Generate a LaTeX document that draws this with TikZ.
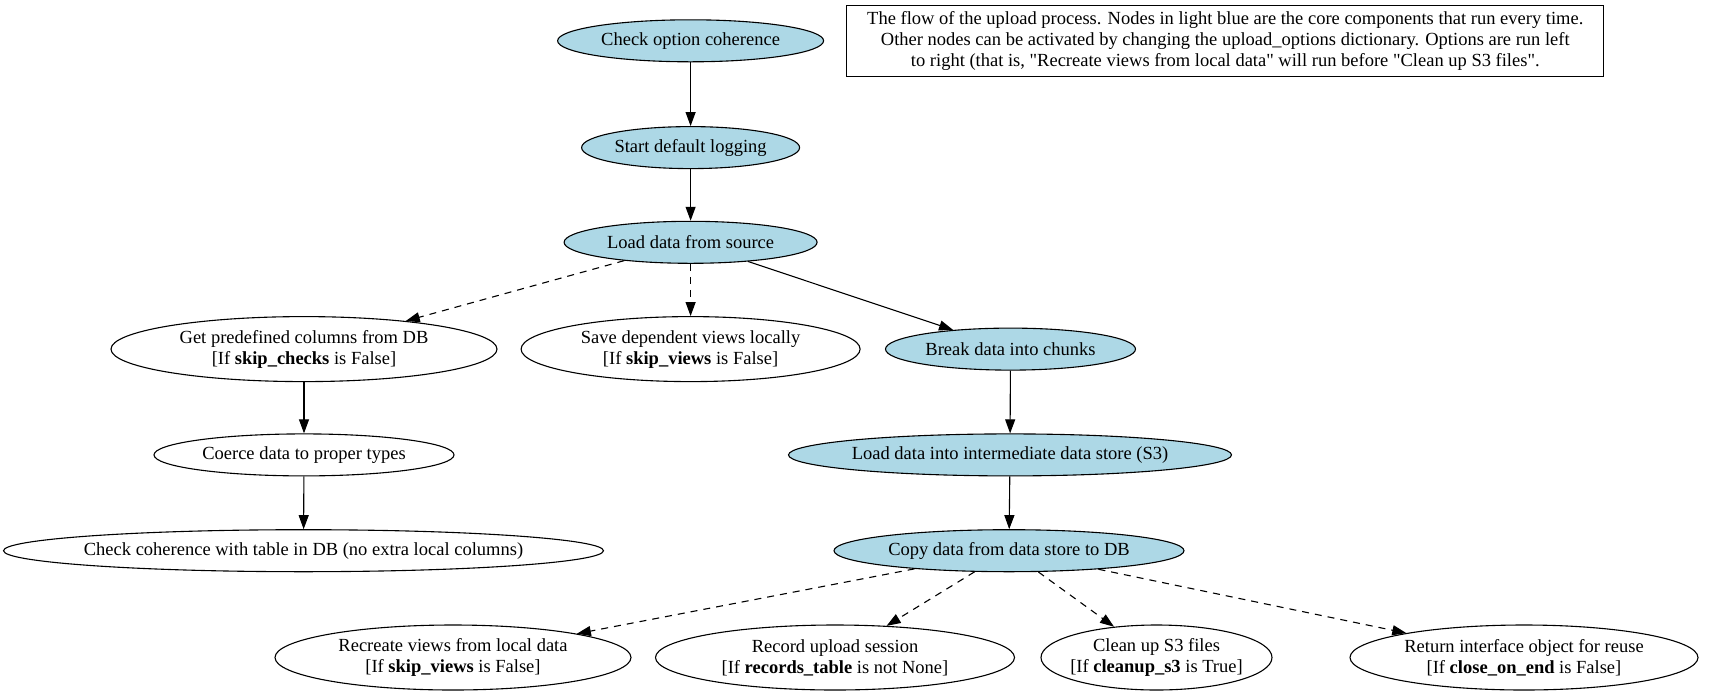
\documentclass[tikz,border=0pt]{standalone}
\usepackage{fontspec}
\setmainfont[Ligatures=TeXOff]{Liberation Serif}
\usetikzlibrary{shapes.geometric,arrows.meta}
\definecolor{lblue}{HTML}{ADD8E6}
\tikzset{
  x=1pt,y=-1pt,
  base/.style={ellipse,draw,line width=1.1pt,inner xsep=-40pt,inner ysep=-12pt,align=center,
    font=\fontsize{18.5}{21}\selectfont},
  core/.style={base,fill=lblue,minimum height=42pt},
  opt/.style={base,fill=white,minimum height=42pt},
  opt2/.style={base,fill=white,minimum height=65pt},
  edge/.style={line width=1.1pt,-{Triangle[length=14pt,width=10pt]}},
  dedge/.style={edge,dash pattern=on 7pt off 6pt},
}
\begin{document}
\begin{tikzpicture}
\useasboundingbox (0,0) rectangle (1727,697);
\node[core,minimum width=266pt] (coc) at (690.6,40.8) {Check option coherence};
\node[core,minimum width=218pt] (sdl) at (690.6,147.6) {Start default logging};
\node[core,minimum width=253pt] (lds) at (690.6,242.3) {Load data from source};
\node[opt2,minimum width=386pt] (gpc) at (304,349.1) {Get predefined columns from DB\\{}[If \textbf{skip\_checks} is False]};
\node[opt2,minimum width=339pt] (sdv) at (690.6,349.1) {Save dependent views locally\\{}[If \textbf{skip\_views} is False]};
\node[core,minimum width=250pt] (bdc) at (1010.5,349.1) {Break data into chunks};
\node[opt,minimum width=300pt] (cdt) at (304,454.9) {Coerce data to proper types};
\node[opt,minimum width=600pt] (cct) at (303.5,550.7) {Check coherence with table in DB (no extra local columns)};
\node[core,minimum width=443pt] (ldi) at (1010,454.9) {Load data into intermediate data store (S3)};
\node[core,minimum width=350pt] (cds) at (1009,550.7) {Copy data from data store to DB};
\node[opt2,minimum width=356pt] (rvl) at (453,657.5) {Recreate views from local data\\{}[If \textbf{skip\_views} is False]};
\node[opt2,minimum width=359pt] (rus) at (835,657.5) {Record upload session\\{}[If \textbf{records\_table} is not None]};
\node[opt2,minimum width=231pt] (cus) at (1156.5,657.5) {Clean up S3 files\\{}[If \textbf{cleanup\_s3} is True]};
\node[opt2,minimum width=348pt] (rio) at (1524,657.5) {Return interface object for reuse\\{}[If \textbf{close\_on\_end} is False]};
\node[draw,line width=1.1pt,rectangle,minimum width=757pt,minimum height=70.5pt,inner sep=0pt,align=center,
  font=\fontsize{18.5}{21}\selectfont] (note) at (1225.3,40.8)
  {The flow of the upload process. Nodes in light blue are the core components that run every time.\\
   Other nodes can be activated by changing the upload\_options dictionary. Options are run left\\
   to right (that is, "Recreate views from local data" will run before "Clean up S3 files".};
\draw[edge] (coc) -- (sdl);
\draw[edge] (sdl) -- (lds);
\draw[dedge] (lds) -- (gpc);
\draw[dedge] (lds) -- (sdv);
\draw[edge] (lds) -- (bdc);
\draw[edge] (gpc) -- (cdt);
\draw[edge] (cdt) -- (cct);
\draw[edge] (bdc) -- (ldi);
\draw[edge] (ldi) -- (cds);
\draw[dedge] (cds) -- (rvl);
\draw[dedge] (cds) -- (rus);
\draw[dedge] (cds) -- (cus);
\draw[dedge] (cds) -- (rio);
\end{tikzpicture}
\end{document}
